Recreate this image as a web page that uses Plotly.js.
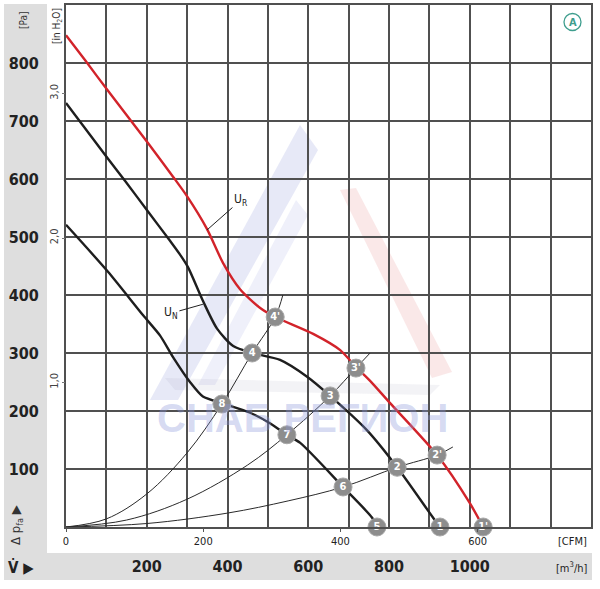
<!DOCTYPE html>
<html><head><meta charset="utf-8">
<script src="https://cdn.plot.ly/plotly-3.0.1.min.js"></script>
<style>html,body{margin:0;padding:0;background:#fff}#chart{width:600px;height:589px}</style>
</head><body><div id="chart"></div>
<script>
// ---- data (flow in m³/h, pressure in Pa) ----
const redFlow     = [0, 47, 104, 203, 265, 300, 349, 389, 431, 480, 518, 612, 679, 718, 753, 802, 919, 1000, 1033];
const redPressure = [848, 805, 752, 662, 604, 570, 514, 455, 410, 378, 362, 333, 305, 276, 252, 214, 124, 41, 0];

const unFlow      = [0, 104, 146, 203, 258, 282, 302, 339, 374, 414, 461, 530, 597, 654, 745, 820, 909, 926];
const unPressure  = [731, 635, 597, 544, 493, 470, 448, 390, 342, 312, 300, 288, 259, 226, 167, 103, 16, 0];

const lowFlow     = [0, 104, 191, 233, 265, 307, 339, 389, 456, 505, 547, 580, 686, 758, 770];
const lowPressure = [521, 440, 365, 330, 293, 250, 225, 213, 197, 179, 159, 145, 69, 16, 0];

const sysAFlow     = [0, 100, 200, 300, 386, 461, 518, 537];
const sysAPressure = [0, 14, 57, 128, 212, 300, 362, 400];
const sysBFlow     = [0, 150, 300, 450, 547, 654, 718, 753];
const sysBPressure = [0, 12, 48, 107, 159, 226, 274, 300];
const sysCFlow     = [0, 200, 400, 550, 686, 820, 919, 958];
const sysCPressure = [0, 6, 24, 45, 69, 103, 124, 138];

const pointLabels   = ["1", "2", "3", "4", "5", "6", "7", "8", "1'", "2'", "3'", "4'"];
const pointFlow     = [926, 820, 654, 461, 770, 686, 547, 386, 1033, 919, 718, 518];
const pointPressure = [0, 103, 226, 300, 0, 69, 159, 212, 0, 124, 274, 362];

const paTicks   = [0, 100, 200, 300, 400, 500, 600, 700, 800, 900];
const paLabels  = ["", "100", "200", "300", "400", "500", "600", "700", "800", ""];
const inH2OTicks  = [1, 2, 3];
const inH2OLabels = ["1,0", "2,0", "3,0"];
const flowGrid    = [0,100,200,300,400,500,600,700,800,900,1000,1100,1200,1300];
const m3hLabels   = ["", "", "200", "", "400", "", "600", "", "800", "", "1000", "", "", ""];
const cfmTicks    = [0, 200, 400, 600];

// ---- layout helpers ----
const L = 66, R = 591, T = 5, B = 527;
const PAmax = 900, Fmax = 1300;
function px(x){ return (x - L) / (R - L); }
function py(y){ return (B - y) / (B - T); }
const FONT = "Liberation Sans Narrow, DejaVu Sans Condensed, Arial Narrow, sans-serif";
const GRID = '#505050';

const traces = [
  {x: sysAFlow, y: sysAPressure, mode: 'lines', line: {color: '#2a2a2a', width: 1, shape: 'spline'}, hoverinfo: 'skip'},
  {x: sysBFlow, y: sysBPressure, mode: 'lines', line: {color: '#2a2a2a', width: 1, shape: 'spline'}, hoverinfo: 'skip'},
  {x: sysCFlow, y: sysCPressure, mode: 'lines', line: {color: '#2a2a2a', width: 1, shape: 'spline'}, hoverinfo: 'skip'},
  {x: lowFlow, y: lowPressure, mode: 'lines', line: {color: '#1e1e1e', width: 2.4, shape: 'spline', smoothing: 0.7}},
  {x: unFlow, y: unPressure, mode: 'lines', line: {color: '#1e1e1e', width: 2.4, shape: 'spline', smoothing: 0.7}},
  {x: redFlow, y: redPressure, mode: 'lines', line: {color: '#d2232a', width: 2.4, shape: 'spline', smoothing: 0.7}},
  {x: pointFlow, y: pointPressure, mode: 'markers+text', text: pointLabels, textposition: 'middle center',
   textfont: {color: '#ffffff', size: 11, family: FONT, weight: 'bold'},
   marker: {color: '#8d8d8d', size: 18, line: {color: '#a8a8a8', width: 1}}, cliponaxis: false},
  // secondary axes carriers
  {x: [0], y: [0], xaxis: 'x2', yaxis: 'y', mode: 'markers', marker: {opacity: 0}, hoverinfo: 'skip'},
  {x: [0], y: [0], xaxis: 'x', yaxis: 'y2', mode: 'markers', marker: {opacity: 0}, hoverinfo: 'skip'}
];

const shapes = [
  // grey L-band
  {type: 'rect', xref: 'paper', yref: 'paper', x0: px(4), x1: px(47), y0: py(580), y1: py(4), fillcolor: '#dedede', line: {width: 0}, layer: 'below'},
  {type: 'rect', xref: 'paper', yref: 'paper', x0: px(4), x1: px(592), y0: py(580), y1: py(553), fillcolor: '#dedede', line: {width: 0}, layer: 'below'},
  // watermark triangles
  {type: 'path', xref: 'paper', yref: 'paper', layer: 'below',
   path: `M ${px(300)} ${py(125)} L ${px(318)} ${py(150)} L ${px(178)} ${py(400)} L ${px(150)} ${py(400)} Z`,
   fillcolor: 'rgba(120,135,210,0.18)', line: {width: 0}},
  {type: 'path', xref: 'paper', yref: 'paper', layer: 'below',
   path: `M ${px(296)} ${py(200)} L ${px(308)} ${py(215)} L ${px(215)} ${py(385)} L ${px(198)} ${py(385)} Z`,
   fillcolor: 'rgba(120,135,210,0.12)', line: {width: 0}},
  {type: 'path', xref: 'paper', yref: 'paper', layer: 'below',
   path: `M ${px(340)} ${py(190)} L ${px(356)} ${py(188)} L ${px(452)} ${py(372)} L ${px(432)} ${py(378)} Z`,
   fillcolor: 'rgba(220,90,90,0.14)', line: {width: 0}},
  {type: 'path', xref: 'paper', yref: 'paper', layer: 'below',
   path: `M ${px(165)} ${py(378)} L ${px(440)} ${py(385)} L ${px(430)} ${py(395)} L ${px(175)} ${py(390)} Z`,
   fillcolor: 'rgba(160,160,180,0.12)', line: {width: 0}},
  // circled A
  {type: 'circle', xref: 'paper', yref: 'paper', x0: px(564), x1: px(581), y0: py(30.5), y1: py(13.5), line: {color: '#3f9e8e', width: 1.3}}
];

function note(xp, yp, text, font, extra){
  return Object.assign({xref: 'paper', yref: 'paper', x: px(xp), y: py(yp), text: text, showarrow: false,
    xanchor: 'center', yanchor: 'middle', font: font}, extra || {});
}

const annotations = [
  note(302, 418, 'СНАБ РЕГИОН', {family: 'Liberation Sans, sans-serif', size: 40, color: 'rgba(140,152,220,0.36)', weight: 'bold'}),
  note(572.5, 22, 'A', {family: FONT, size: 11, color: '#3f9e8e', weight: 'bold'}),
  {x: 349, y: 512, xref: 'x', yref: 'y', text: 'U<sub>R</sub>', showarrow: true, arrowhead: 0, arrowwidth: 1, arrowcolor: '#222',
   ax: 34, ay: -30, font: {family: FONT, size: 12, color: '#222'}},
  {x: 339, y: 384, xref: 'x', yref: 'y', text: 'U<sub>N</sub>', showarrow: true, arrowhead: 0, arrowwidth: 1, arrowcolor: '#222',
   ax: -32, ay: 9, font: {family: FONT, size: 12, color: '#222'}},
  note(23, 20, '[Pa]', {family: FONT, size: 10, color: '#333'}, {textangle: -90}),
  note(57, 26, '[in H<sub>2</sub>O]', {family: FONT, size: 10, color: '#333'}, {textangle: -90}),
  note(16, 525, 'Δ p<sub>fa</sub> ▶', {family: FONT, size: 13, color: '#333'}, {textangle: -90}),
  note(21, 567, '<b>V̇ ▶</b>', {family: FONT, size: 15, color: '#222'}),
  note(572, 541, '[CFM]', {family: FONT, size: 11, color: '#222'}),
  note(572, 567, '[m<sup>3</sup>/h]', {family: FONT, size: 11, color: '#222'})
];

const layout = {
  width: 600, height: 589,
  margin: {l: L, r: 600 - R, t: T, b: 589 - B},
  paper_bgcolor: '#ffffff', plot_bgcolor: '#ffffff',
  showlegend: false,
  xaxis: {range: [0, Fmax], tickmode: 'array', tickvals: flowGrid, ticktext: m3hLabels,
          showgrid: true, gridcolor: GRID, gridwidth: 2, zeroline: false,
          showline: true, linecolor: GRID, linewidth: 2, mirror: true,
          ticks: '', ticklabelstandoff: 24, tickfont: {family: FONT, size: 16, color: '#222', weight: 'bold'}},
  xaxis2: {overlaying: 'x', anchor: 'y', side: 'bottom', range: [0, Fmax / 1.699], tickmode: 'array', tickvals: cfmTicks,
           ticktext: cfmTicks.map(String), showgrid: false, zeroline: false, showline: false,
           ticks: 'outside', ticklen: 4, tickcolor: '#555', tickwidth: 1,
           tickfont: {family: FONT, size: 11, color: '#222'}},
  yaxis: {range: [0, PAmax], tickmode: 'array', tickvals: paTicks, ticktext: paLabels,
          showgrid: true, gridcolor: GRID, gridwidth: 2, zeroline: false,
          showline: true, linecolor: GRID, linewidth: 2, mirror: true,
          ticks: '', ticklabelstandoff: 22, tickfont: {family: FONT, size: 16, color: '#222', weight: 'bold'}},
  yaxis2: {overlaying: 'y', anchor: 'x', side: 'left', range: [0, PAmax / 249.09], tickmode: 'array',
           tickvals: inH2OTicks, ticktext: inH2OLabels, tickangle: -90, showgrid: false, zeroline: false, showline: false,
           ticks: 'outside', ticklen: 3, tickcolor: '#777', tickwidth: 1,
           tickfont: {family: FONT, size: 11, color: '#444'}},
  shapes: shapes,
  annotations: annotations
};

Plotly.newPlot('chart', traces, layout, {staticPlot: true, displayModeBar: false});
</script>
</body></html>
